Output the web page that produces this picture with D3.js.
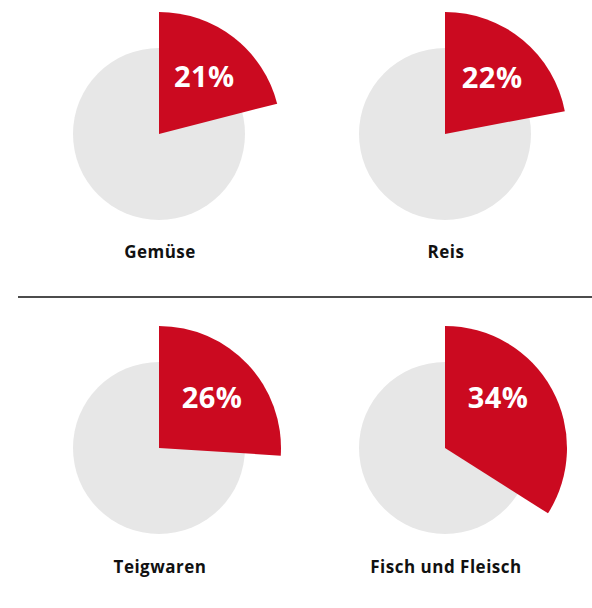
<!DOCTYPE html>
<html lang="de">
<head>
    <meta charset="UTF-8">
    <title>Anteile</title>
    <script src="https://d3js.org/d3.v7.min.js"></script>
    <style>
        body { margin: 0; background: #fff; }
        .cat { font-family: "Open Sans", "Noto Sans", sans-serif; font-weight: 700; font-size: 17px; letter-spacing: 0.5px; fill: #111; }
        .pct { font-family: "Open Sans", "Noto Sans", sans-serif; font-weight: 700; font-size: 29px; letter-spacing: 0.5px; fill: #fff; }
    </style>
</head>
<body>
<script>
    // data
    const categories = ["Gemüse", "Reis", "Teigwaren", "Fisch und Fleisch"];
    const shares = [21, 22, 26, 34];
    const pctLabels = ["21%", "22%", "26%", "34%"];

    const width = 592, height = 608;
    const red = "#cb0a20", grey = "#e7e7e7";

    // layout: 2x2 grid
    const colX = [159, 445];
    const rowY = [134, 448];
    const rBase = 86, rSlice = 122;

    const svg = d3.select("body").append("svg")
        .attr("width", width)
        .attr("height", height);

    const pie = d3.pie().sort(null).value(d => d);
    const baseArc = d3.arc().innerRadius(0).outerRadius(rBase);
    const sliceArc = d3.arc().innerRadius(0).outerRadius(rSlice);

    categories.forEach((cat, i) => {
        const cx = colX[i % 2], cy = rowY[Math.floor(i / 2)];
        const g = svg.append("g").attr("transform", `translate(${cx},${cy})`);
        const slices = pie([shares[i], 100 - shares[i]]);

        // grey full disc
        g.append("path")
            .attr("fill", grey)
            .attr("d", baseArc({startAngle: 0, endAngle: 2 * Math.PI}));

        // red share, pops out
        g.append("path")
            .attr("fill", red)
            .attr("d", sliceArc(slices[0]));

        // percent label inside the red slice
        const mid = Math.min((slices[0].startAngle + slices[0].endAngle) / 2, 0.8);
        const lr = 74;
        g.append("text")
            .attr("class", "pct")
            .attr("x", lr * Math.sin(mid))
            .attr("y", -lr * Math.cos(mid))
            .attr("text-anchor", "middle")
            .attr("dominant-baseline", "central")
            .text(pctLabels[i]);

        // category label below
        g.append("text")
            .attr("class", "cat")
            .attr("x", 1)
            .attr("y", 124 + Math.floor(i / 2))
            .attr("text-anchor", "middle")
            .text(cat);
    });

    // divider between rows
    svg.append("line")
        .attr("x1", 18).attr("x2", width)
        .attr("y1", 297).attr("y2", 297)
        .attr("stroke", "#111")
        .attr("stroke-width", 1.5);
</script>
</body>
</html>
